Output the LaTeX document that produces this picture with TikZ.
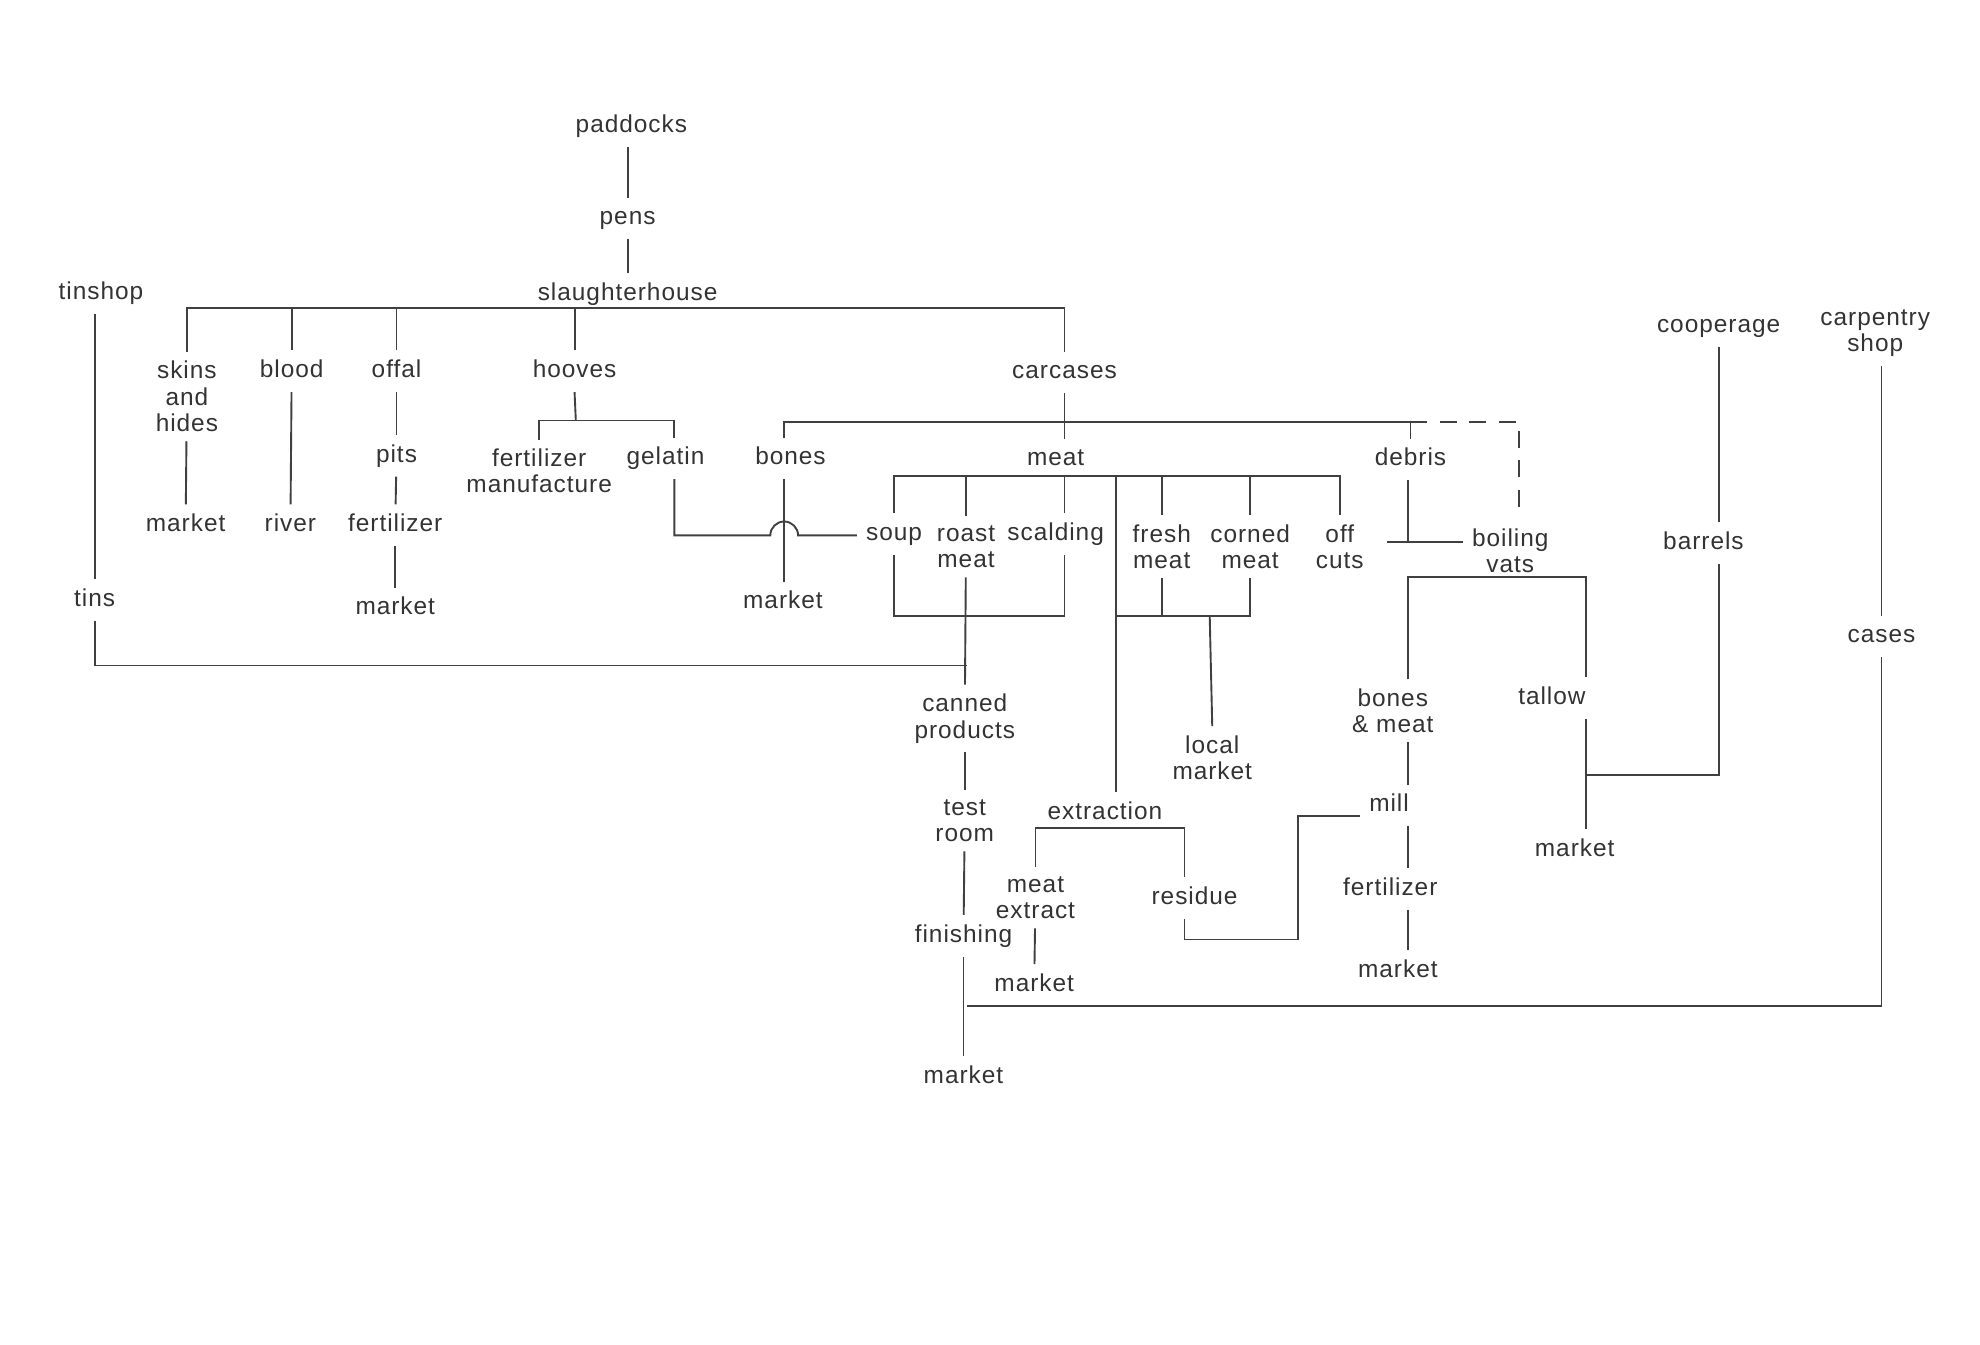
\documentclass[tikz,border=0pt]{standalone}
\usepackage{fontspec}
\setmainfont{Liberation Sans}[LetterSpace=4]
\usetikzlibrary{calc}
\tikzset{
    flow word/.style={
        inner sep=2pt,
        font=\fontsize{5.8pt}{6.3pt}\selectfont,
        text=black!80,
        text height=4.25pt,
        text depth=1.25pt
    },
    flow words/.style={
        inner sep=2pt,
        font=\fontsize{5.8pt}{6.3pt}\selectfont,
        text=black!80,
        align=center
    },
    flow line/.style={
        line width=0.45pt,
        black!75
    },
    flow dashed/.style={
        flow line,
        dash pattern=on 4pt off 3pt
    }
}

\begin{document}
\begin{tikzpicture}[x=0.3pt, y=-0.3pt]
    \useasboundingbox (0,-2) rectangle (1568,1063);

    % where it all starts
    \node[flow word] (paddocks) at (500,98) {paddocks};
    \node[flow word] (pens) at (497,171) {pens};
    \node[flow word] (slaughterhouse) at (497,231) {slaughterhouse};
    \node[flow word] (tinshop) at (80,230) {tinshop};
    \node[flow word] (cooperage) at (1361,256) {cooperage};
    \node[flow words] (carpentry) at (1485,262) {carpentry\\shop};

    % by-products of the slaughterhouse
    \node[flow words] (skins) at (148,312) {skins\\and\\hides};
    \node[flow word] (blood) at (231,292) {blood};
    \node[flow word] (offal) at (314,292) {offal};
    \node[flow word] (hooves) at (455,292) {hooves};
    \node[flow word] (carcases) at (843,293) {carcases};
    \node[flow word] (skins market) at (147,414) {market};
    \node[flow word] (river) at (230,414) {river};
    \node[flow word] (pits) at (314,359) {pits};
    \node[flow word] (offal fertilizer) at (313,414) {fertilizer};
    \node[flow word] (offal market) at (313,480) {market};
    \node[flow words] (fertilizer works) at (427,371) {fertilizer\\manufacture};
    \node[flow word] (gelatin) at (527,361) {gelatin};
    \node[flow word] (tins) at (75,473) {tins};

    % carcases
    \node[flow word] (bones) at (626,361) {bones};
    \node[flow word] (meat) at (836,362) {meat};
    \node[flow word] (debris) at (1117,362) {debris};
    \node[flow word] (bones market) at (620,475) {market};
    \node[flow word] (soup) at (708,421) {soup};
    \node[flow words] (roast) at (765,431) {roast\\meat};
    \node[flow word] (scalding) at (836,421) {scalding};
    \node[flow words] (fresh) at (920,431) {fresh\\meat};
    \node[flow words] (corned) at (990,431) {corned\\meat};
    \node[flow words] (off cuts) at (1061,431) {off\\cuts};
    \node[flow words] (vats) at (1196,434) {boiling\\vats};
    \node[flow word] (barrels) at (1349,428) {barrels};
    \node[flow word] (cases) at (1490,502) {cases};

    % products
    \node[flow words] (canned) at (764,567) {canned\\products};
    \node[flow words] (bones meat) at (1103,561) {bones\\\& meat};
    \node[flow word] (tallow) at (1229,551) {tallow};
    \node[flow words] (local) at (960,598) {local\\market};
    \node[flow words] (test room) at (764,648) {test\\room};
    \node[flow word] (extraction) at (875,642) {extraction};
    \node[flow word] (mill) at (1100,636) {mill};
    \node[flow word] (tallow market) at (1247,671) {market};
    \node[flow words] (meat extract) at (820,709) {meat\\extract};
    \node[flow word] (residue) at (946,709) {residue};
    \node[flow word] (mill fertilizer) at (1101,702) {fertilizer};
    \node[flow word] (finishing) at (763,739) {finishing};
    \node[flow word] (mill market) at (1107,767) {market};
    \node[flow word] (extract market) at (819,778) {market};
    \node[flow word] (canned market) at (763,851) {market};

    % junctions
    \coordinate (sh bar) at (497,242);
    \coordinate (hooves bar) at (456,331);
    \coordinate (gelatin drop) at (534,331);
    \coordinate (hop) at (621,422);
    \coordinate (bone col) at (621,332);
    \coordinate (meat bar) at (884,375);
    \coordinate (soup loop) at (843,486);
    \coordinate (tin join) at (766,525);
    \coordinate (local bar) at (958,486);
    \coordinate (residue col) at (938,654);
    \coordinate (mill feed) at (1028,742);
    \coordinate (debris foot) at (1115,427);
    \coordinate (vats bar) at (1115,455);
    \coordinate (tallow col) at (1256,455);
    \coordinate (barrel join) at (1256,612);
    \coordinate (case join) at (766,795);

    \draw[flow line] (paddocks.south -| pens.north) -- (pens.north);
    \draw[flow line] (pens) -- (slaughterhouse);
    \draw[flow line] (skins.north) |- (carcases.north |- sh bar) -- (carcases.north);
    \draw[flow line] (blood.north) -- (blood.north |- sh bar);
    \draw[flow line] (offal.north) -- (offal.north |- sh bar);
    \draw[flow line] (hooves.north) -- (hooves.north |- sh bar);

    \draw[flow line] (skins) -- (skins market);
    \draw[flow line] (blood) -- (river);
    \draw[flow line] (offal) -- (pits);
    \draw[flow line] (pits) -- (offal fertilizer);
    \draw[flow line] (offal fertilizer) -- (offal market);

    \draw[flow line] (hooves.south) -- (hooves bar);
    \draw[flow line] (fertilizer works.north) |- (gelatin drop) -- (gelatin drop |- gelatin.north);
    % gelatin jumps over the bones line
    \draw[flow line] (gelatin drop |- gelatin.south) |- ([xshift=-3.3pt]hop)
        arc[start angle=180, end angle=360, radius=11] -- (hop -| soup.west);

    \draw[flow line] (tinshop.south -| tins.north) -- (tins.north);
    \draw[flow line] (tins.south) |- (tin join);

    % carcases
    \draw[flow line] (carcases.south) -- (carcases.south |- meat.north);
    \draw[flow line] (bone col |- bones.north) -- (bone col) -- (bone col -| debris.north) -- (debris.north);
    \draw[flow dashed] (bone col -| debris.north) -| ([xshift=2.1pt]vats.north);
    \draw[flow line] (bone col |- bones.south) -- (bone col |- bones market.north);

    \draw[flow line] (soup.north) |- (off cuts.north |- meat bar) -- (off cuts.north);
    \draw[flow line] (roast.north) -- (roast.north |- meat bar);
    \draw[flow line] (scalding.north -| carcases.south) -- (carcases.south |- meat bar);
    \draw[flow line] (fresh.north) -- (fresh.north |- meat bar);
    \draw[flow line] (corned.north) -- (corned.north |- meat bar);
    \draw[flow line] (meat bar) -- (meat bar |- extraction.north);

    \draw[flow line] (soup.south) |- (soup loop) -- (soup loop |- scalding.south);
    \draw[flow line] (roast) -- (canned);
    \draw[flow line] (canned) -- (test room);
    \draw[flow line] (test room) -- (finishing);
    \draw[flow line] (finishing) -- (canned market);
    \draw[flow line] (case join) -| (cases.south);
    \draw[flow line] (carpentry.south -| cases.north) -- (cases.north);

    \draw[flow line] (meat bar |- local bar) -| (corned.south);
    \draw[flow line] (fresh.south) -- (fresh.south |- local bar);
    \draw[flow line] (local bar) -- (local.north);

    % extraction and the mill
    \draw[flow line] (meat extract.north) |- (residue col) -- (residue col |- residue.north);
    \draw[flow line] (meat extract) -- (extract market);
    \draw[flow line] (residue col |- residue.south) |- (mill feed) |- ([yshift=-2.4pt]mill.west);

    % debris to the vats
    \draw[flow line] (debris.south -| debris foot) -- (debris foot);
    \draw[flow line] ([xshift=-5.1pt]debris foot) -- (debris foot -| vats.west);
    \draw[flow line] (vats bar |- bones meat.north) |- (tallow col) -- (tallow col |- tallow.north);
    \draw[flow line] (vats bar |- bones meat.south) -- (vats bar |- mill.north);
    \draw[flow line] (vats bar |- mill.south) -- (vats bar |- mill fertilizer.north);
    \draw[flow line] (vats bar |- mill fertilizer.south) -- (vats bar |- mill market.north);
    \draw[flow line] (tallow col |- tallow.south) -- (tallow col |- tallow market.north);
    \draw[flow line] (cooperage.south) -- (cooperage.south |- barrels.north);
    \draw[flow line] (cooperage.south |- barrels.south) |- (barrel join);
\end{tikzpicture}
\end{document}
